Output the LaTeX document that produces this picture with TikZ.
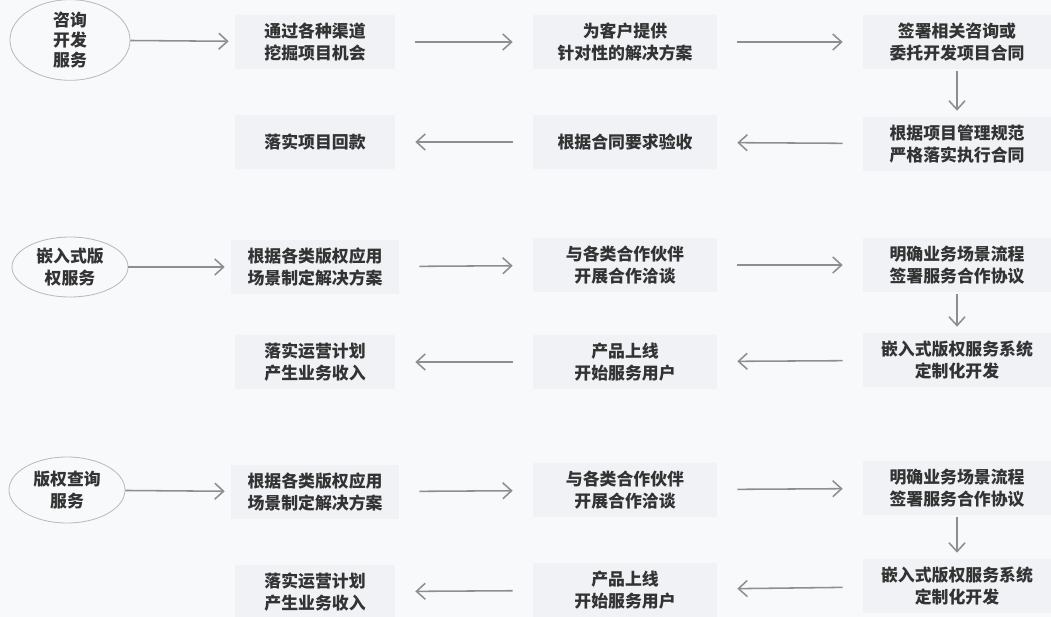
\documentclass[tikz,border=0pt]{standalone}
\usepackage{fontspec}
\newfontfamily\cjk{Noto Sans CJK SC}
\usetikzlibrary{shapes.geometric,arrows.meta}
\definecolor{bgc}{HTML}{F8F9FB}
\definecolor{boxc}{HTML}{F0F2F5}
\definecolor{arrc}{HTML}{8C8E92}
\tikzset{
	stepbox/.style={fill=boxc, minimum height=1.35cm, align=center, inner sep=0pt},
	svc/.style={ellipse, draw=arrc!60, line width=0.6pt, align=center, inner sep=0pt},
	flow/.style={-{Straight Barb[length=2.2mm,width=4mm]}, draw=arrc, line width=1.1pt, shorten <=0.5cm, shorten >=0.5cm},
	down/.style={flow, shorten <=0.05cm, shorten >=0.15cm}
}
\begin{document}
\begin{tikzpicture}[x=0.025cm,y=-0.025cm,font=\cjk\bfseries\fontsize{12}{15.5}\selectfont,text=black!80]
	\fill[bgc] (0,0) rectangle (1051,617);
	\useasboundingbox (0,0) rectangle (1051,617);
	% 咨询开发服务
	\node[svc, minimum width=3cm, minimum height=1.75cm, font=\cjk\bfseries\fontsize{12}{14.5}\selectfont] (s1) at (70,40) {咨询\\开发\\服务};
	\node[stepbox, minimum width=4cm] (a1) at (315,42) {通过各种渠道\\挖掘项目机会};
	\node[stepbox, minimum width=4.6cm] (a2) at (625,42) {为客户提供\\针对性的解决方案};
	\node[stepbox, minimum width=4.7cm] (a3) at (957,42) {签署相关咨询或\\委托开发项目合同};
	\node[stepbox, minimum width=4.7cm] (a4) at (957,144) {根据项目管理规范\\严格落实执行合同};
	\node[stepbox, minimum width=4.6cm] (a5) at (625,142) {根据合同要求验收};
	\node[stepbox, minimum width=4cm] (a6) at (315,142) {落实项目回款};
	\draw[flow, shorten <=0pt, shorten >=0.15cm] (s1) -- (a1);
	\draw[flow] (a1) -- (a2);
	\draw[flow] (a2) -- (a3);
	\draw[down] (a3) -- (a4);
	\draw[flow] (a4) -- (a5);
	\draw[flow] (a5) -- (a6);
	% 嵌入式版权服务
	\node[svc, minimum width=2.9cm, minimum height=1.5cm] (s2) at (70,267) {嵌入式版\\权服务};
	\node[stepbox, minimum width=4.2cm] (b1) at (315,267) {根据各类版权应用\\场景制定解决方案};
	\node[stepbox, minimum width=4.6cm] (b2) at (625,265) {与各类合作伙伴\\开展合作洽谈};
	\node[stepbox, minimum width=4.7cm] (b3) at (957,265) {明确业务场景流程\\签署服务合作协议};
	\node[stepbox, minimum width=4.7cm] (b4) at (957,360) {嵌入式版权服务系统\\定制化开发};
	\node[stepbox, minimum width=4.6cm] (b5) at (625,362) {产品上线\\开始服务用户};
	\node[stepbox, minimum width=4cm] (b6) at (315,362) {落实运营计划\\产生业务收入};
	\draw[flow, shorten <=0pt, shorten >=0.15cm] (s2) -- (b1);
	\draw[flow] (b1) -- (b2);
	\draw[flow] (b2) -- (b3);
	\draw[down] (b3) -- (b4);
	\draw[flow] (b4) -- (b5);
	\draw[flow] (b5) -- (b6);
	% 版权查询服务
	\node[svc, minimum width=2.9cm, minimum height=1.65cm] (s3) at (67,490) {版权查询\\服务};
	\node[stepbox, minimum width=4.2cm] (c1) at (315,492) {根据各类版权应用\\场景制定解决方案};
	\node[stepbox, minimum width=4.6cm] (c2) at (625,490) {与各类合作伙伴\\开展合作洽谈};
	\node[stepbox, minimum width=4.7cm] (c3) at (957,488) {明确业务场景流程\\签署服务合作协议};
	\node[stepbox, minimum width=4.7cm] (c4) at (957,586) {嵌入式版权服务系统\\定制化开发};
	\node[stepbox, minimum width=4.6cm] (c5) at (625,590) {产品上线\\开始服务用户};
	\node[stepbox, minimum width=4cm] (c6) at (315,592) {落实运营计划\\产生业务收入};
	\draw[flow, shorten <=0pt, shorten >=0.15cm] (s3) -- (c1);
	\draw[flow] (c1) -- (c2);
	\draw[flow] (c2) -- (c3);
	\draw[down] (c3) -- (c4);
	\draw[flow] (c4) -- (c5);
	\draw[flow] (c5) -- (c6);
\end{tikzpicture}
\end{document}
